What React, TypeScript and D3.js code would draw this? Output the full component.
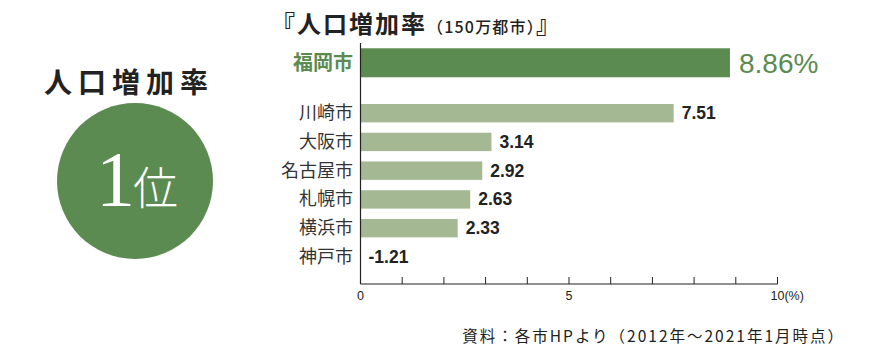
import React from 'react'
import * as d3 from 'd3'

const topCity = '福岡市'
const topValue = 8.86
const cities = ['川崎市', '大阪市', '名古屋市', '札幌市', '横浜市', '神戸市']
const values = [7.51, 3.14, 2.92, 2.63, 2.33, -1.21]
const majorTicks = [0, 5, 10]

const W = 878
const H = 359
const DARK = '#5b8b51'
const LIGHT = '#a4b993'
const TEXT = '#333333'
const JP = '"Noto Sans CJK JP", "Noto Sans", sans-serif'
const LATIN = '"Liberation Sans", Arial, sans-serif'

export default function App() {
  const x = d3.scaleLinear().domain([0, 10]).range([360.5, 777.5])
  const y = d3.scaleBand<string>()
    .domain(cities)
    .range([98.8, 271.3])
    .paddingInner(0.36)
    .paddingOuter(0.18)

  // highlighted row sits apart above the rest
  const topY = (y(cities[0]) as number) - 55.7
  const topH = 29
  const axisY = 284
  const minorTicks = d3.range(1, 11)

  return (
    <svg width={W} height={H} style={{ position: 'absolute', left: 0, top: 0, background: '#fff' }}>
      {/* left badge */}
      <text x={129} y={93} textAnchor="middle" fontFamily={JP} fontWeight={700}
        fontSize={28} letterSpacing={6} fill="#222">人口増加率</text>
      <circle cx={135} cy={181} r={78} fill={DARK} />
      <text y={205} fill="#fff">
        <tspan x={96} fontFamily='"Liberation Serif", "DejaVu Serif", serif' fontSize={78}>1</tspan>
        <tspan x={133} fontFamily={JP} fontSize={45} fontWeight={300}>位</tspan>
      </text>

      {/* title */}
      <text x={271} y={33} fontFamily={JP} fill="#222">
        <tspan fontSize={24} fontWeight={700} letterSpacing={2}>『人口増加率</tspan>
        <tspan fontSize={16} fontWeight={500} letterSpacing={1.2}>（150万都市）</tspan>
        <tspan fontSize={24} fontWeight={700}>』</tspan>
      </text>

      {/* top bar */}
      <rect x={x(0)} y={topY} width={x(topValue) - x(0)} height={topH} fill={DARK} />
      <text x={353} y={topY + topH / 2 + 7} textAnchor="end" fontFamily={JP} fontWeight={700}
        fontSize={20} fill={DARK}>{topCity}</text>
      <text x={x(topValue) + 9} y={topY + topH / 2 + 10} fontFamily={LATIN} fontSize={28}
        fill={DARK}>{topValue.toFixed(2)}%</text>

      {/* other bars */}
      {cities.map((c, i) => {
        const v = values[i]
        const by = y(c) as number
        const bh = y.bandwidth()
        return (
          <g key={c}>
            <rect x={x(0)} y={by} width={x(Math.max(0, v)) - x(0)} height={bh} fill={LIGHT} />
            <text x={353} y={by + bh / 2 + 6} textAnchor="end" fontFamily={JP} fontSize={18}
              fill={TEXT}>{c}</text>
            <text x={x(Math.max(0, v)) + 8} y={by + bh / 2 + 6} fontFamily={LATIN} fontWeight={700}
              fontSize={17.5} fill="#222">{v.toFixed(2)}</text>
          </g>
        )
      })}

      {/* axes */}
      <line x1={x(0)} x2={x(0)} y1={43} y2={axisY} stroke="#222" strokeWidth={1.2} />
      <line x1={x(0)} x2={x(10)} y1={axisY} y2={axisY} stroke="#222" strokeWidth={1.2} />
      {minorTicks.map(t => (
        <line key={t} x1={x(t)} x2={x(t)} y1={axisY} y2={axisY - 7} stroke="#222" strokeWidth={1} />
      ))}
      {majorTicks.map(t => (
        <text key={t} x={x(t)} y={300} textAnchor={t === 10 ? 'start' : 'middle'}
          dx={t === 10 ? -7 : 0} fontFamily={LATIN} fontSize={12.5} fill="#222">
          {t === 10 ? '10(%)' : t}
        </text>
      ))}

      {/* source */}
      <text x={845} y={342} textAnchor="end" fontFamily={JP} fontSize={15.5} fontWeight={400}
        letterSpacing={2} fill="#222">資料：各市HPより（2012年～2021年1月時点）</text>
    </svg>
  )
}
